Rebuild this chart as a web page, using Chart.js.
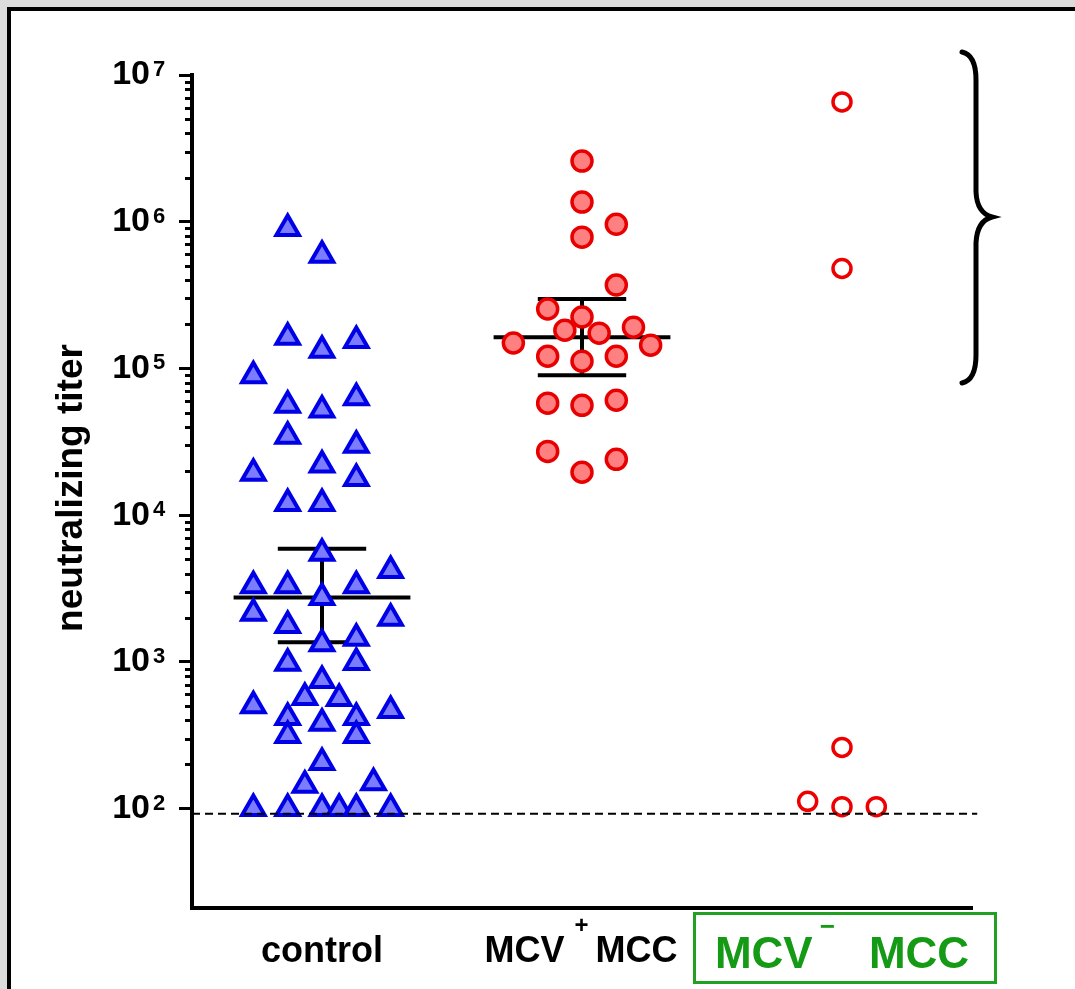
<!DOCTYPE html>
<html>
<head>
<meta charset="utf-8">
<script src="https://cdn.jsdelivr.net/npm/chart.js@4.4.1/dist/chart.umd.min.js"></script>
<style>
    html, body { margin: 0; padding: 0; background: #dcdcdc; overflow: hidden; }
    #frame { position: absolute; left: 7px; top: 7px; width: 1064px; height: 978px; background: #fff; border-left: 4px solid #000; border-top: 4px solid #000; }
    #wrap { position: absolute; left: 0; top: 0; width: 1075px; height: 989px; }
</style>
</head>
<body>
<div id="frame"></div>
<div id="wrap"><canvas id="titerChart"></canvas></div>
<script>
// groups on the x axis: 1 = control, 2 = MCV+ MCC, 3 = MCV- MCC
const categories = [['control'], ['MCV', '+', 'MCC'], ['MCV', '\u2212', 'MCC']];

// neutralizing titers, with the column slot of each dot
const controlTiters = [900000, 590000, 163000, 133000, 155000, 89000, 56000, 52000, 63000, 34500,
    30000, 22000, 19300, 17800, 12000, 12000, 5500, 3300, 3300, 3300,
    4200, 2750, 2140, 1980, 1770, 1330, 1450, 990, 980, 747,
    571, 562, 503, 466, 417, 417, 381, 315, 315, 206,
    144, 150, 100, 100, 100, 100, 100, 100];
const controlSlots = [-2, 0, -2, 0, 2, -4, -2, 0, 2, -2,
    2, 0, -4, 2, -2, 0, 0, -4, -2, 2,
    4, 0, -4, 4, -2, 0, 2, 2, -2, 0,
    -1, 1, -4, 4, -2, 2, 0, -2, 2, 0,
    -1, 3, -4, -2, 0, 1, 2, 4];

const mcvPosTiters = [2590000, 1360000, 960000, 785000, 370000, 254000, 224000, 182000, 174000, 191000,
    149000, 144000, 121000, 112000, 121000, 58000, 56000, 60700, 27200, 19600, 24000];
const mcvPosSlots = [0, 0, 2, 0, 2, -2, 0, -1, 1, 3,
    -4, 4, -2, 0, 2, -2, 0, 2, -2, 0, 2];

const mcvNegTiters = [6550000, 480000, 261, 112, 103, 103];
const mcvNegSlots = [0, 0, 0, -2, 0, 2];

// median with error bars for the first two groups
const medians = [2750, 163000];
const upperErr = [5900, 297000];
const lowerErr = [1360, 90000];

const cutoff = 92;
const yTickPowers = [2, 3, 4, 5, 6, 7];

const FONT = "'Liberation Sans', Arial, sans-serif";
const slotStep = 0.066;

const toPoints = (group, titers, slots) => titers.map((v, i) => ({ x: group + slots[i] * slotStep, y: v }));

const errorBar = (group, i) => [
    { x: group - 0.34, y: medians[i] }, { x: group + 0.34, y: medians[i] }, { x: group, y: null },
    { x: group - 0.17, y: upperErr[i] }, { x: group + 0.17, y: upperErr[i] }, { x: group, y: null },
    { x: group, y: upperErr[i] }, { x: group, y: lowerErr[i] }, { x: group, y: null },
    { x: group - 0.17, y: lowerErr[i] }, { x: group + 0.17, y: lowerErr[i] }
];

const lineStyle = {
    showLine: true,
    pointRadius: 0,
    borderColor: '#000',
    borderWidth: 4,
    spanGaps: false
};

const extras = {
    id: 'extras',
    afterDraw(chart) {
        const ctx = chart.ctx;
        const xs = chart.scales.x, ys = chart.scales.y;
        ctx.save();

        // minor ticks on the y axis
        ctx.strokeStyle = '#000';
        ctx.lineWidth = 3;
        for (let p = yTickPowers[0]; p < yTickPowers[yTickPowers.length - 1]; p++) {
            for (let m = 2; m <= 9; m++) {
                const y = Math.round(ys.getPixelForValue(m * Math.pow(10, p))) + 0.5;
                ctx.beginPath();
                ctx.moveTo(ys.right - 7, y);
                ctx.lineTo(ys.right, y);
                ctx.stroke();
            }
        }

        // exponents of the tick labels
        ctx.fillStyle = '#000';
        ctx.font = `bold 22px ${FONT}`;
        ctx.textAlign = 'left';
        ctx.textBaseline = 'alphabetic';
        yTickPowers.forEach(p => {
            ctx.fillText(String(p), 153, ys.getPixelForValue(Math.pow(10, p)) + 1);
        });

        // y title
        ctx.translate(72, 488);
        ctx.rotate(-Math.PI / 2);
        ctx.font = `bold 37px ${FONT}`;
        ctx.textAlign = 'center';
        ctx.textBaseline = 'middle';
        ctx.fillText('neutralizing titer', 0, 0);
        ctx.setTransform(1, 0, 0, 1, 0, 0);

        // category labels
        ctx.textAlign = 'left';
        ctx.textBaseline = 'alphabetic';
        const drawLabel = (parts, cx) => {
            const widths = parts.map(pt => { ctx.font = pt.font; return ctx.measureText(pt.text).width; });
            const total = widths.reduce((a, w, i) => a + w + (parts[i].gap || 0), 0);
            let x = cx - total / 2;
            parts.forEach((pt, i) => {
                ctx.font = pt.font;
                ctx.fillStyle = pt.color;
                ctx.fillText(pt.text, x, pt.base);
                x += widths[i] + (pt.gap || 0);
            });
        };
        const big = `bold 36px ${FONT}`, small = `bold 24px ${FONT}`;
        drawLabel([{ text: categories[0][0], font: big, color: '#000', base: 962 }], xs.getPixelForValue(1));
        drawLabel([
            { text: categories[1][0], font: big, color: '#000', base: 962, gap: 10 },
            { text: categories[1][1], font: small, color: '#000', base: 933, gap: 7 },
            { text: categories[1][2], font: big, color: '#000', base: 962 }
        ], xs.getPixelForValue(2) - 1);

        const green = '#159a15';
        const gBig = `bold 44px ${FONT}`, gSmall = `bold 26px ${FONT}`;
        drawLabel([
            { text: categories[2][0], font: gBig, color: green, base: 968, gap: 7 },
            { text: categories[2][1], font: gSmall, color: green, base: 935, gap: 34 },
            { text: categories[2][2], font: gBig, color: green, base: 968 }
        ], xs.getPixelForValue(3));
        ctx.strokeStyle = '#22a022';
        ctx.lineWidth = 3;
        ctx.strokeRect(694.5, 913.5, 301, 69);

        // brace on the right
        ctx.strokeStyle = '#000';
        ctx.lineWidth = 5;
        ctx.lineCap = 'round';
        ctx.beginPath();
        ctx.moveTo(962, 52);
        ctx.quadraticCurveTo(976, 55, 976, 80);
        ctx.lineTo(976, 192);
        ctx.quadraticCurveTo(977, 213, 992, 217);
        ctx.quadraticCurveTo(977, 221, 976, 243);
        ctx.lineTo(976, 355);
        ctx.quadraticCurveTo(976, 380, 962, 383);
        ctx.stroke();

        ctx.restore();
    }
};

new Chart(document.getElementById('titerChart'), {
    type: 'scatter',
    data: {
        datasets: [
            {
                label: 'cutoff',
                data: [{ x: 0.5, y: cutoff }, { x: 3.52, y: cutoff }],
                showLine: true,
                pointRadius: 0,
                borderColor: '#000',
                borderWidth: 2,
                borderDash: [8, 5],
                clip: false
            },
            {
                label: 'MCV- MCC',
                data: toPoints(3, mcvNegTiters, mcvNegSlots),
                pointStyle: 'circle',
                pointRadius: 9,
                pointBackgroundColor: '#fff',
                pointBorderColor: '#ee0000',
                pointBorderWidth: 3.5
            },
            {
                label: 'MCV+ MCC',
                data: toPoints(2, mcvPosTiters, mcvPosSlots),
                pointStyle: 'circle',
                pointRadius: 10,
                pointBackgroundColor: '#ff8080',
                pointBorderColor: '#e80000',
                pointBorderWidth: 3.5
            },
            {
                label: 'control',
                data: toPoints(1, controlTiters, controlSlots),
                pointStyle: 'triangle',
                pointRadius: 13,
                pointBackgroundColor: '#7c7cff',
                pointBorderColor: '#0000e6',
                pointBorderWidth: 4
            },
            { label: 'control median', data: errorBar(1, 0), ...lineStyle },
            { label: 'MCV+ median', data: errorBar(2, 1), ...lineStyle }
        ]
    },
    options: {
        responsive: true,
        maintainAspectRatio: false,
        animation: false,
        events: [],
        layout: { padding: { left: 0, top: 75, right: 103, bottom: 0 } },
        plugins: { legend: { display: false }, tooltip: { enabled: false } },
        scales: {
            x: {
                type: 'linear',
                min: 0.5,
                max: 3.5,
                border: { display: true, width: 4, color: '#000' },
                grid: { display: true, drawOnChartArea: false, drawTicks: false, color: 'rgba(0,0,0,0)' },
                ticks: { display: false },
                afterFit: (s) => { s.height = 81; }
            },
            y: {
                type: 'logarithmic',
                min: 21,
                max: 10000000,
                border: { display: true, width: 4, color: '#000' },
                grid: { display: true, drawOnChartArea: false, drawTicks: true, tickLength: 13, lineWidth: 3, color: '#000' },
                afterBuildTicks: (s) => { s.ticks = yTickPowers.map(p => ({ value: Math.pow(10, p) })); },
                ticks: {
                    color: '#000',
                    padding: 29,
                    font: { family: FONT, size: 34, weight: 'bold' },
                    callback: () => '10'
                },
                afterFit: (s) => { s.width = 192; }
            }
        }
    },
    plugins: [extras]
});
</script>
</body>
</html>
